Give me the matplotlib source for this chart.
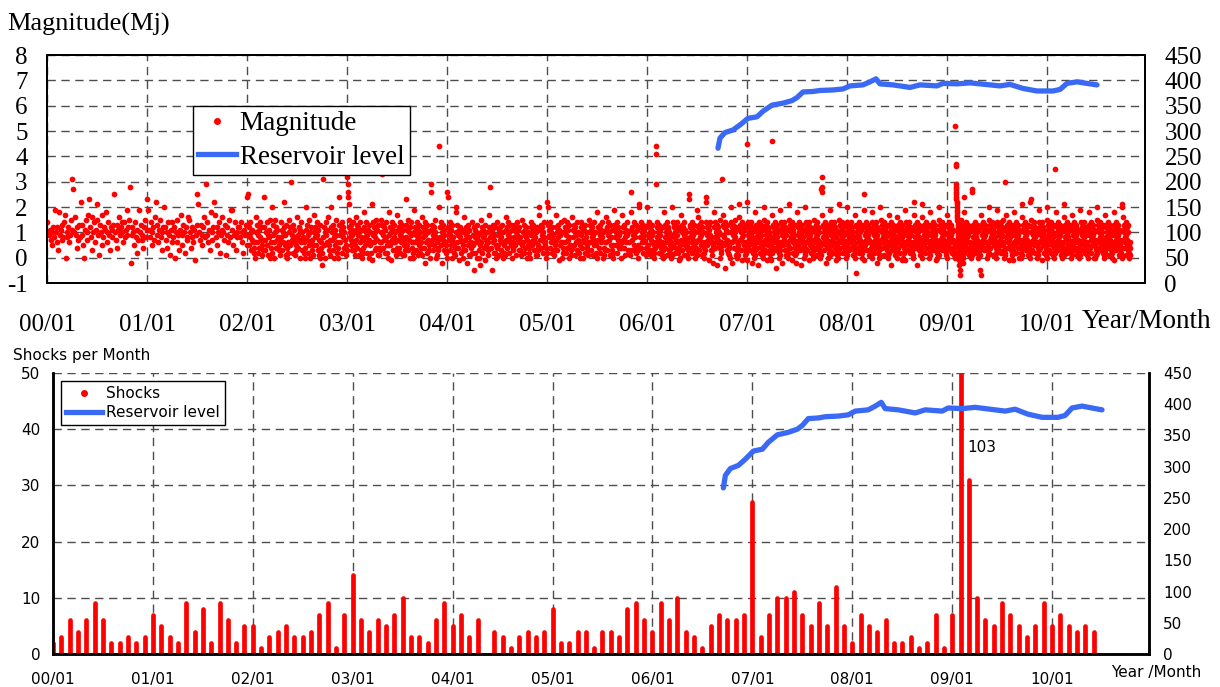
import matplotlib
matplotlib.use("Agg")
import matplotlib.pyplot as plt
from matplotlib.lines import Line2D

SERIF = "Liberation Serif"
SANS = "DejaVu Sans"
RED = "#ff0000"
BLUE = "#3a6af5"
plt.rcParams["axes.unicode_minus"] = False

# magnitudes, in tenths of Mj, one string per month
mag_2000 = [
    "14 10 9 11 7 10 5 12 8 19", "10 6 12 3 18 9 11 13 7 8", "14 17 0 10 8 12 6 9 15 11",
    "31 27 10 16 9 4 12 7 13 8", "22 9 13 5 0 11 15 10 7 17", "23 12 8 16 3 10 14 6 11 21",
    "15 9 1 13 10 17 5 8 12 11", "18 10 6 14 9 3 12 11 8 13", "25 10 7 13 4 11 16 9 12 14",
    "10 6 14 8 11 19 9 12 15 28", "-2 9 12 10 5 14 8 11 2 7", "19 10 13 7 9 4 12 15 8 11",
]
mag_2001 = [
    "23 19 11 8 14 5 10 12 7 16", "22 13 9 6 11 15 8 3 10 12", "20 12 7 10 4 14 9 1 11 6",
    "14 8 12 0 10 6 15 9 3 11", "17 9 5 13 10 2 12 7 8 16", "15 10 4 12 8 6 11 -1 9 13",
    "25 21 10 7 13 5 9 12 16 8", "29 14 9 6 11 3 18 10 7 12", "22 17 8 12 5 10 14 2 9 11",
    "16 10 7 13 1 9 12 6 15 8", "19 19 11 5 9 14 3 10 8 12", "12 8 14 6 10 2 11 9 13 5",
]
mag_2002 = [
    "24 25 9 5 12 8 14 3 10 7 11 6 2 4 0 6", "16 10 6 13 2 9 11 4 14 8 7 12 5 1 3 7",
    "24 12 7 3 10 14 5 9 1 11 8 15 0 4 6 2", "20 9 13 6 0 10 15 4 12 7 11 8 3 5 1 6",
    "14 8 11 3 10 6 22 12 5 9 1 13 4 0 6 2", "15 10 5 12 30 7 9 2 13 6 11 8 1 5 3 7",
    "16 9 4 12 7 0 11 14 6 10 3 8 6 2 4 0", "20 11 7 13 2 9 5 15 10 0 12 6 3 7 1 5",
    "17 10 8 12 5 9 14 3 11 7 1 13 0 6 4 2", "-3 31 8 12 5 10 0 14 9 6 11 16 5 3 7 1",
    "20 12 7 10 3 13 8 0 11 5 9 15 2 6 0 4", "24 13 9 6 11 2 14 8 12 4 10 7 4 1 5 3",
]
mag_2003 = [
    "32 29 26 24 21 15 12 8 10 5 13 7 9 11 3 14 6 10 3 6 1 5",
    "16 11 7 13 4 9 12 1 10 6 14 8 3 11 0 4 7 2",
    "18 12 8 5 10 14 2 9 11 6 13 0 7 10 5 2 6 -1",
    "21 14 9 6 12 3 10 8 15 4 11 7 13 1 4 1 6 3",
    "15 10 6 13 33 9 4 12 7 2 11 8 14 5 2 5 0 6",
    "18 9 12 5 10 -1 14 7 11 3 8 13 6 10 6 3 1 4",
    "17 11 7 12 4 9 14 2 10 6 13 8 1 11 1 5 3 7",
    "23 13 8 5 11 15 3 10 7 12 0 9 14 6 4 0 6 2",
    "19 10 6 12 9 3 14 7 11 1 8 13 5 10 2 6 4 1",
    "16 12 8 4 10 14 -2 9 11 6 13 2 7 10 5 3 0 6",
    "29 26 11 7 13 3 9 12 5 10 15 0 8 6 1 4 7 3",
    "44 20 12 8 14 5 10 -2 13 7 11 3 9 6 6 2 5 0",
]
mag_2004 = [
    "26 24 12 7 10 3 14 9 5 11 0 13 8 6 2 5 1 4", "20 18 10 6 13 4 9 11 -1 8 12 2 7 10 6 3 0 5",
    "16 11 7 3 12 9 -2 10 5 13 8 1 11 6 1 4 6 2", "14 9 5 12 -5 8 11 2 10 6 13 0 7 9 3 0 5 -3",
    "15 10 6 2 12 8 11 4 9 -1 13 7 5 10 4 1 6 3", "17 12 28 8 4 10 -5 11 6 13 2 9 7 12 2 5 0 4",
    "14 9 5 11 1 10 7 12 3 8 13 6 0 10 5 2 6 1", "16 11 7 12 4 9 14 2 10 6 8 13 5 11 0 4 3 6",
    "13 8 12 5 10 1 9 14 7 11 3 6 12 8 3 6 1 5", "15 10 6 13 2 9 11 4 8 12 7 0 10 5 4 2 0 6",
    "14 9 12 5 10 7 13 3 11 6 8 1 10 12 1 5 3 4", "20 17 11 7 13 4 9 12 2 10 6 14 8 5 6 0 4 2",
]
mag_2005 = [
    "22 20 13 8 11 4 9 14 6 10 2 12 7 9 3 1 5 6", "17 12 7 10 3 13 8 -1 11 5 9 14 6 10 0 4 2 6",
    "15 10 6 12 2 9 14 4 11 7 0 8 13 5 5 3 1 4", "16 11 8 13 5 10 1 12 6 9 14 3 7 10 2 6 0 5",
    "14 9 12 4 10 7 0 11 6 13 2 8 10 5 4 1 3 6", "15 10 6 13 3 11 8 12 1 9 14 5 7 10 6 2 5 0",
    "18 12 7 10 4 13 9 2 11 6 14 8 0 10 1 4 6 3", "16 11 6 12 3 9 14 7 10 1 13 5 8 11 3 5 2 0",
    "19 13 8 11 5 10 2 14 7 12 4 9 6 10 5 0 4 6", "17 12 7 13 4 10 8 1 11 6 14 9 3 10 2 6 3 1",
    "26 18 11 7 12 3 9 14 5 10 8 13 2 11 4 3 0 5", "21 20 12 8 14 4 10 6 13 2 11 9 7 12 6 1 4 2",
]
mag_2006 = [
    "20 13 9 5 12 8 14 3 10 7 11 1 13 6 9 10 3 0 5 2 6 4",
    "44 41 29 12 8 14 5 10 7 13 2 11 6 9 12 4 1 4 6 0 3 5",
    "18 12 8 13 4 10 6 14 1 9 11 7 12 3 10 8 5 2 0 4 6 1",
    "20 14 9 5 12 8 13 2 10 7 11 4 14 6 9 12 2 6 3 -1 5 0",
    "17 11 7 13 3 10 6 12 9 14 1 8 11 5 10 7 4 1 5 3 0 6",
    "23 25 13 8 12 4 10 6 14 2 9 11 7 13 5 10 0 3 6 2 4 1",
    "19 16 12 7 10 3 13 8 11 5 14 9 1 12 6 10 5 2 4 0 6 3",
    "24 22 14 9 12 5 10 7 13 -1 11 6 9 14 3 8 1 6 3 5 -2 4",
    "18 12 8 14 4 10 6 13 -3 11 9 7 12 5 10 15 4 0 2 6 3 5",
    "31 17 13 9 5 12 8 14 -4 10 6 11 3 13 7 10 2 5 1 4 6 0",
    "20 14 10 6 12 -2 9 13 4 11 7 15 8 10 1 12 6 3 0 5 1 4",
    "21 16 11 7 13 3 10 8 14 -1 12 6 9 11 5 13 3 1 6 2 4 -1",
]
mag_2007 = [
    "45 22 14 9 12 5 10 7 13 3 11 8 14 6 9 12 -2 10 7 11 2 5 0 4 6 3 1",
    "18 13 8 11 4 10 6 12 9 -3 14 7 10 2 12 8 11 5 13 9 4 1 6 3 0 5 2",
    "20 15 11 7 12 3 9 13 6 10 -1 14 8 11 5 12 9 2 10 7 0 3 5 -1 4 6 2",
    "46 17 12 8 13 4 10 6 11 9 14 -4 7 12 3 10 8 13 5 11 5 2 4 0 6 1 3",
    "19 14 10 6 12 -2 9 13 5 11 7 8 14 3 10 12 6 9 11 1 3 6 1 5 2 0 4",
    "21 15 11 7 13 4 10 8 12 -1 9 14 6 11 2 10 13 7 9 5 1 4 2 6 -2 3 5",
    "18 13 9 12 5 10 7 14 3 11 8 12 -3 9 6 13 10 4 11 8 6 0 3 5 1 4 2",
    "20 14 10 6 12 3 9 13 7 11 -1 14 8 10 5 12 9 2 11 7 2 5 4 1 6 0 3",
    "15 11 7 12 4 10 8 13 6 9 14 1 11 7 12 5 10 4 3 0 6 2 5 1 27 28 32",
    "26 17 12 8 13 3 10 6 11 9 14 -2 8 12 5 10 7 13 4 11 0 6 2 4 5 1 3",
    "19 14 9 12 5 10 7 13 2 11 8 14 6 9 12 4 10 -1 11 8 5 1 3 0 4 6 2",
    "21 15 10 7 13 4 9 12 6 11 8 14 2 10 7 12 5 9 13 10 3 4 6 2 0 5 1",
]
mag_2008 = [
    "20 14 11 7 12 3 9 13 10 6 12 8 14 4 11 7 9 12 5 10 1 5 3 6 0 4 2",
    "17 13 -6 8 12 4 10 6 11 9 14 2 8 12 5 10 7 13 3 11 4 2 0 5 6 3 -1",
    "25 19 13 9 12 5 10 7 14 3 11 8 12 6 9 13 1 10 7 11 6 3 1 4 2 0 5",
    "18 14 10 6 12 2 9 13 7 11 4 14 8 10 5 12 -2 9 11 7 2 0 5 3 6 1 4",
    "20 15 11 7 13 4 10 8 12 6 9 14 1 11 7 12 5 10 13 8 3 6 4 1 0 5 2",
    "17 13 9 12 5 10 -3 14 7 11 3 8 12 6 10 13 4 9 11 7 5 1 2 6 3 4 0",
    "16 12 8 13 4 10 6 11 9 14 2 7 12 5 10 8 13 -1 9 11 0 4 6 2 5 -1 3",
    "19 14 10 6 12 3 9 13 7 11 5 14 8 10 2 12 6 9 11 4 4 2 3 0 6 1 5",
    "22 17 12 8 13 4 10 6 11 9 -3 14 7 12 5 10 8 13 3 11 1 6 5 3 2 4 0",
    "21 16 11 7 12 5 9 13 6 10 2 14 8 11 4 12 7 9 13 10 6 0 2 4 1 5 3",
    "18 13 9 12 4 10 7 14 3 11 8 12 6 9 13 5 10 -1 11 7 2 3 0 5 4 6 1",
    "20 15 11 7 13 4 10 6 12 8 14 3 9 11 5 12 7 10 13 6 5 4 1 2 6 0 3",
]
mag_2009 = [
    "17 13 9 12 5 10 7 14 3 11 8 12 6 9 13 4 10 2 11 7 3 1 6 4 0 5 2",
    "52 37 36 29 28 27 26 25 24 23 22 21 20 19 18 17 16 15 14 13 12 11 10 9 8 7 6 5 4 3 "
    "2 1 0 -1 -3 -5 -7 12 10 8 14 6 11 9 13 7 10 5 12 8 15 3 11 9 6 13 10 4 8 12 "
    "2 5 0 4 6 1 3 -2 4 2",
    "24 18 13 9 12 5 10 7 14 3 11 8 12 6 9 13 4 10 1 11 4 6 2 0 5 3 1",
    "27 26 12 8 13 4 10 6 11 9 14 2 8 12 5 10 7 13 3 11 0 2 5 3 6 4 1",
    "-5 -7 17 13 9 12 5 10 7 14 3 11 8 12 6 9 13 4 10 11 6 3 0 4 1 5 2",
    "20 15 11 7 13 4 10 8 12 6 9 14 1 11 7 12 5 10 13 8 1 5 4 2 0 6 3",
    "19 14 10 6 12 3 9 13 7 11 5 14 8 10 2 12 6 9 11 15 5 0 3 6 2 1 4",
    "30 17 12 8 13 4 10 6 11 9 14 -1 7 12 5 10 8 13 3 11 2 4 1 5 3 -1 6",
    "18 13 9 12 5 10 7 14 2 11 8 12 6 9 13 4 10 0 11 7 4 6 0 2 5 3 1",
    "21 16 11 7 13 4 10 6 12 8 14 3 9 11 5 12 7 10 13 1 3 1 5 4 6 0 2",
    "22 23 15 10 6 12 3 9 13 7 11 5 14 8 10 2 12 6 9 11 0 5 2 6 1 4 3",
    "19 14 10 6 12 4 9 13 7 11 -1 14 8 10 5 12 9 2 11 7 6 2 4 1 3 5 0",
]
mag_2010 = [
    "20 15 11 7 13 3 10 8 12 6 9 14 2 11 7 12 5 10 13 8 1 4 5 0 6 2 3",
    "35 18 13 9 12 5 10 7 14 3 11 8 12 6 9 13 4 10 1 11 5 2 0 3 4 6 1",
    "21 16 12 8 13 4 10 6 11 9 14 2 8 12 5 10 7 13 3 11 3 6 2 5 0 1 4",
    "17 13 9 12 5 10 7 14 3 11 8 12 6 9 13 4 10 1 11 7 2 0 4 6 3 5 1",
    "19 14 10 6 12 3 9 13 7 11 5 14 8 10 2 12 6 9 11 4 6 3 1 2 5 0 4",
    "18 13 9 12 4 10 7 14 2 11 8 12 6 9 13 5 10 0 11 7 0 5 3 4 1 6 2",
    "20 15 11 7 13 4 10 6 12 8 14 3 9 11 5 12 7 10 13 2 4 1 6 0 2 3 5",
    "17 12 8 13 4 10 6 11 9 14 1 8 12 5 10 7 13 3 11 9 2 6 0 5 3 4 -1",
    "18 13 9 12 5 10 7 14 3 11 8 12 6 9 13 4 10 1 11 7 5 3 2 1 6 0 4",
    "21 20 16 11 7 13 4 10 6 12 8 14 1 9 11 5 12 7 10 13 3 0 5 2 4 1 6",
]

# shocks per month, Jan 2000 .. Jun 2010
shocks = [
    2, 3, 6, 4, 6, 9, 6, 2, 2, 3, 2, 3,
    7, 5, 3, 2, 9, 4, 8, 2, 9, 6, 2, 5,
    5, 1, 3, 4, 5, 3, 3, 4, 7, 9, 1, 7,
    14, 6, 4, 6, 5, 7, 10, 3, 3, 2, 6, 9,
    5, 7, 3, 6, 0, 4, 3, 1, 3, 4, 3, 4,
    8, 2, 2, 4, 4, 1, 4, 4, 3, 8, 9, 6,
    4, 9, 6, 10, 4, 3, 1, 5, 7, 6, 6, 7,
    27, 3, 7, 10, 10, 11, 7, 5, 9, 5, 12, 5,
    2, 7, 5, 4, 6, 2, 2, 3, 1, 2, 7, 1,
    7, 103, 31, 10, 6, 5, 9, 7, 5, 3, 5, 9,
    5, 7, 5, 4, 5, 4,
]

# reservoir level (right axis), time in years after 2000/01
res_time = [6.71, 6.73, 6.78, 6.86, 6.93, 7.01, 7.10, 7.16, 7.25, 7.36, 7.45, 7.50,
            7.56, 7.66, 7.73, 7.86, 7.96, 8.03, 8.16, 8.23, 8.29, 8.33, 8.46, 8.63,
            8.73, 8.90, 8.96, 9.10, 9.23, 9.43, 9.53, 9.63, 9.76, 9.90, 10.06, 10.13,
            10.20, 10.30, 10.43, 10.50]
res_level = [266, 286, 297, 302, 312, 325, 328, 339, 351, 355, 360, 366,
             377, 378, 380, 381, 383, 389, 391, 397, 403, 393, 391, 386,
             391, 389, 394, 393, 395, 391, 389, 392, 384, 379, 379, 382,
             394, 397, 393, 391]

years = list(range(2000, 2011))
year_labels = [f"{y % 100:02d}/01" for y in years]


def month_points(year, months):
    xs, ys = [], []
    for m, s in enumerate(months):
        vals = [int(v) / 10 for v in s.split()]
        for k, v in enumerate(vals):
            xs.append(year - 2000 + (m + (k + 0.5) / len(vals)) / 12)
            ys.append(v)
    return xs, ys


mag_x, mag_y = [], []
for yr, months in zip(years, [mag_2000, mag_2001, mag_2002, mag_2003, mag_2004, mag_2005,
                              mag_2006, mag_2007, mag_2008, mag_2009, mag_2010]):
    xs, ys = month_points(yr, months)
    mag_x += xs
    mag_y += ys

month_x = [i / 12 for i in range(len(shocks))]
year_x = [y - 2000 for y in years]

W, H = 1220, 687
fig = plt.figure(figsize=(W / 100, H / 100), dpi=100)
grid_kw = dict(color="0.3", linestyle=(0, (6, 4)), linewidth=1.0)

# ---- upper panel: magnitudes
ax1 = fig.add_axes([47 / W, 1 - 283 / H, 1098 / W, 228 / H])
ax1r = ax1.twinx()
ax1.scatter(mag_x, mag_y, s=17, color=RED, linewidths=0, zorder=3)
ax1r.plot(res_time, res_level, color=BLUE, lw=3.8, solid_capstyle="round")
ax1.set_xlim(0, 10.98)
ax1.set_ylim(-1, 8)
ax1r.set_ylim(0, 450)
ax1.set_xticks(year_x)
ax1.set_xticklabels(year_labels)
ax1.set_yticks(range(-1, 9))
ax1r.set_yticks(range(0, 451, 50))
ax1.grid(True, **grid_kw)
ax1.tick_params(axis="x", length=0, pad=22, labelsize=18)
ax1.tick_params(axis="y", length=0, pad=14, labelsize=18)
ax1r.tick_params(axis="y", length=0, pad=14, labelsize=18)
for a in (ax1, ax1r):
    for lab in a.get_xticklabels() + a.get_yticklabels():
        lab.set_family(SERIF)
    for sp in a.spines.values():
        sp.set_linewidth(1.3)
        sp.set_color("black")

handles1 = [Line2D([], [], ls="none", marker="o", ms=4, color=RED),
            Line2D([], [], color=BLUE, lw=3.8)]
leg1 = ax1r.legend(handles1, ["Magnitude", "Reservoir level"], loc="upper left",
                   bbox_to_anchor=(0.133, 0.776), borderaxespad=0, fancybox=False,
                   edgecolor="black", framealpha=1, prop=dict(family=SERIF, size=19.5),
                   handlelength=1.37, handletextpad=0.15, borderpad=0.2, labelspacing=0.3)
leg1.get_frame().set_linewidth(1.0)

fig.text(7 / W, 1 - 31 / H, "Magnitude(Mj)", family=SERIF, size=19, va="baseline")
fig.text(1082 / W, 1 - 328 / H, "Year/Month", family=SERIF, size=19.5, va="baseline")

# ---- lower panel: shocks per month
ax2 = fig.add_axes([53 / W, 1 - 654 / H, 1096 / W, 281 / H])
ax2r = ax2.twinx()
ax2.vlines(month_x, 0, shocks, color=RED, lw=3.4, capstyle="round", zorder=3)
ax2r.plot(res_time, res_level, color=BLUE, lw=3.8, solid_capstyle="round")
ax2.text(month_x[109] + 0.07, 36, str(shocks[109]), family=SANS, size=11, va="baseline")
ax2.set_xlim(0, 10.97)
ax2.set_ylim(0, 50)
ax2r.set_ylim(0, 450)
ax2.set_xticks(year_x)
ax2.set_xticklabels(year_labels)
ax2.set_yticks(range(0, 51, 10))
ax2r.set_yticks(range(0, 451, 50))
ax2.grid(True, **grid_kw)
ax2.tick_params(axis="x", length=0, pad=13, labelsize=11)
ax2.tick_params(axis="y", length=0, pad=9, labelsize=11)
ax2r.tick_params(axis="y", length=0, pad=10, labelsize=11)
for a in (ax2, ax2r):
    a.spines["top"].set_visible(False)
    for name in ("left", "right", "bottom"):
        a.spines[name].set_linewidth(1.8)
        a.spines[name].set_color("black")

handles2 = [Line2D([], [], ls="none", marker="o", ms=4, color=RED),
            Line2D([], [], color=BLUE, lw=3.8)]
leg2 = ax2r.legend(handles2, ["Shocks", "Reservoir level"], loc="upper left",
                   bbox_to_anchor=(0.0073, 0.9715), borderaxespad=0, fancybox=False,
                   edgecolor="black", framealpha=1, prop=dict(family=SANS, size=11),
                   handlelength=2.35, handletextpad=0.26, borderpad=0.33, labelspacing=0.26)
leg2.get_frame().set_linewidth(1.0)

fig.text(13 / W, 1 - 360 / H, "Shocks per Month", family=SANS, size=11, va="baseline")
fig.text(1111 / W, 1 - 677 / H, "Year /Month", family=SANS, size=11, va="baseline")

fig.savefig("out.png", dpi=100)
